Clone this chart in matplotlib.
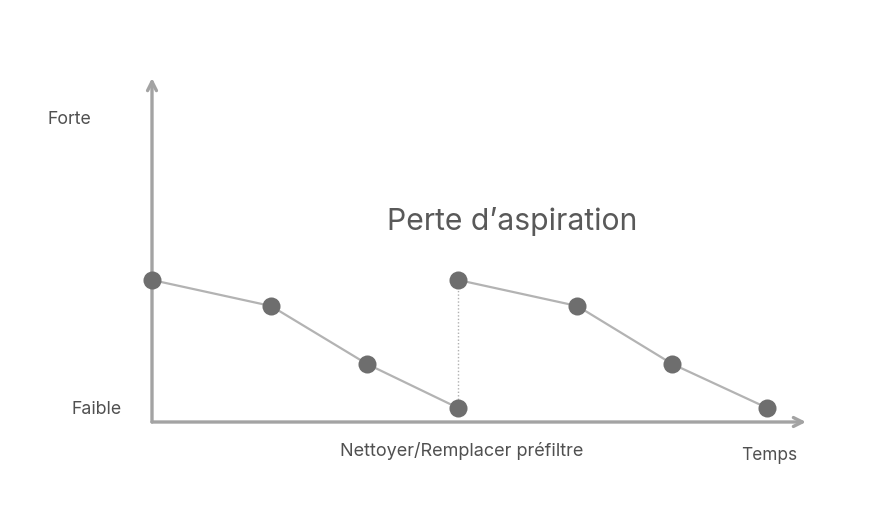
import matplotlib
matplotlib.use("Agg")
import matplotlib.pyplot as plt

# Data (time units, suction strength units)
t_before = [0.0, 1.24, 2.24, 3.19]
s_before = [142, 116, 58, 14]
t_after = [3.19, 4.43, 5.42, 6.41]
s_after = [142, 116, 58, 14]
t_reset = 3.19
level_forte = 304
level_faible = 14
title = "Perte d’aspiration"
reset_label = "Nettoyer/Remplacer préfiltre"
x_label = "Temps"
y_labels = ["Faible", "Forte"]

W, H = 870, 516
fig = plt.figure(figsize=(W / 100, H / 100), dpi=100)
plt.rcParams['font.family'] = ['Inter', 'DejaVu Sans']

ax = fig.add_axes([152 / W, (H - 422) / H, (806 - 152) / W, (422 - 78) / H])
ax.set_xlim(0, 654 / 96)
ax.set_ylim(0, 344)
ax.axis('off')

axis_col = '#a3a3a3'
line_col = '#b3b3b3'
mark_col = '#6e6e6e'
text_col = '#505050'

# axes with arrows
ax.annotate('', xy=(1, 0), xytext=(0, 0), xycoords='axes fraction',
            arrowprops=dict(arrowstyle='->', color=axis_col, lw=2.4,
                            mutation_scale=16, shrinkA=0, shrinkB=0))
ax.annotate('', xy=(0, 1), xytext=(0, 0), xycoords='axes fraction',
            arrowprops=dict(arrowstyle='->', color=axis_col, lw=2.4,
                            mutation_scale=16, shrinkA=0, shrinkB=0))

# reset dotted line
ax.plot([t_reset, t_reset], [s_after[0], s_before[-1]], color='#b0b0b0',
        lw=1.0, ls=(0, (1, 1.5)), zorder=1)

for t, s in [(t_before, s_before), (t_after, s_after)]:
    ax.plot(t, s, color=line_col, lw=1.6, zorder=2, clip_on=False)
    ax.plot(t, s, 'o', color=mark_col, ms=13, mec='none', zorder=3, clip_on=False)

# texts
ax.text(3.75, 200, title, ha='center', va='center', fontsize=21.7,
        color='#595959')
fig.text(462 / W, 1 - 451 / H, reset_label, ha='center', va='center',
         fontsize=13, color=text_col)
fig.text(769 / W, 1 - 455 / H, x_label, ha='center', va='center',
         fontsize=12.4, color=text_col)
ax.text(-30 / 96, level_faible - 2, y_labels[0], ha='right', va='center',
        fontsize=12.8, color=text_col)
ax.text(-61 / 96, level_forte - 2, y_labels[1], ha='right', va='center',
        fontsize=12.8, color=text_col)

fig.savefig('out.png', dpi=100, facecolor='white')
